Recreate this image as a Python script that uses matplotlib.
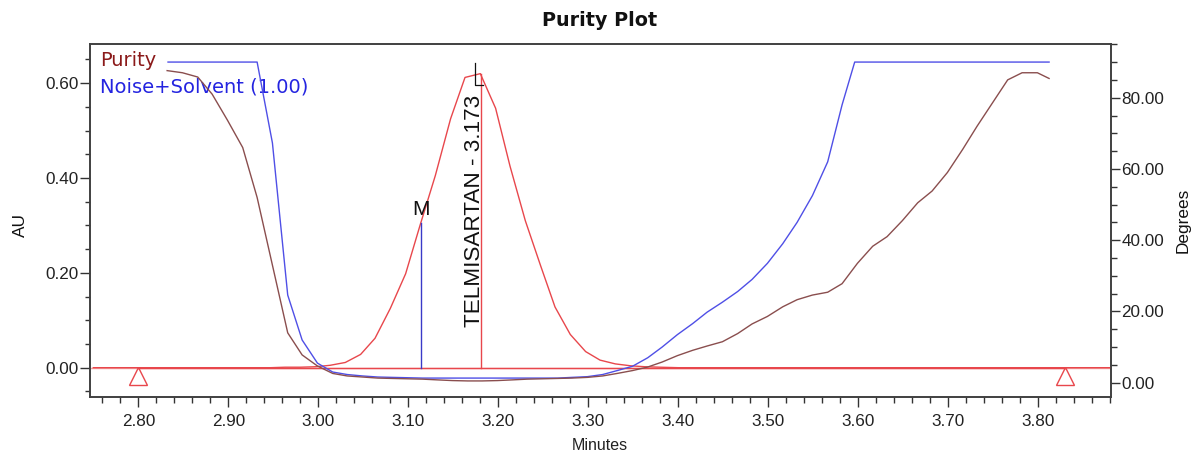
import matplotlib
matplotlib.use("Agg")
import matplotlib.pyplot as plt
from matplotlib.ticker import MultipleLocator, FormatStrFormatter

# ---------------- data ----------------
# chromatogram (AU vs minutes)
chrom_t = [2.750, 2.947, 2.963, 2.980, 2.997, 3.013, 3.030, 3.047, 3.063, 3.080,
           3.097, 3.113, 3.130, 3.147, 3.163, 3.180, 3.197, 3.213, 3.230, 3.247,
           3.263, 3.280, 3.297, 3.313, 3.330, 3.347, 3.363, 3.380, 3.400, 3.880]
chrom_au = [0.000, 0.000, 0.001, 0.001, 0.002, 0.005, 0.011, 0.028, 0.062, 0.125,
            0.198, 0.300, 0.405, 0.525, 0.612, 0.620, 0.547, 0.425, 0.310, 0.215,
            0.128, 0.070, 0.034, 0.016, 0.008, 0.004, 0.002, 0.001, 0.000, 0.000]

# purity angle (degrees)
pur_t = [2.832, 2.849, 2.866, 2.882, 2.899, 2.916, 2.932, 2.949, 2.966, 2.982,
         2.999, 3.016, 3.032, 3.049, 3.066, 3.082, 3.099, 3.116, 3.132, 3.149,
         3.166, 3.182, 3.199, 3.216, 3.232, 3.249, 3.266, 3.282, 3.299, 3.316,
         3.332, 3.349, 3.366, 3.382, 3.399, 3.416, 3.432, 3.449, 3.466, 3.482,
         3.499, 3.516, 3.532, 3.549, 3.566, 3.582, 3.599, 3.616, 3.632, 3.649,
         3.666, 3.682, 3.699, 3.716, 3.732, 3.749, 3.766, 3.782, 3.799, 3.812]
pur_deg = [87.6, 87.0, 85.8, 81.0, 73.7, 66.0, 52.0, 33.0, 14.0, 7.8,
           4.7, 2.6, 1.9, 1.6, 1.3, 1.2, 1.1, 1.0, 0.8, 0.6,
           0.5, 0.5, 0.6, 0.8, 1.0, 1.1, 1.2, 1.3, 1.5, 1.9,
           2.6, 3.4, 4.4, 5.8, 7.6, 9.1, 10.3, 11.5, 13.8, 16.5,
           18.6, 21.3, 23.3, 24.6, 25.4, 27.8, 33.5, 38.3, 41.0, 45.5,
           50.5, 53.8, 59.0, 65.5, 72.0, 78.5, 85.0, 87.0, 87.0, 85.4]

# noise + solvent threshold (degrees)
thr_t = [2.833, 2.932, 2.949, 2.966, 2.982, 2.999, 3.016, 3.032, 3.049, 3.066,
         3.082, 3.099, 3.116, 3.266, 3.282, 3.299, 3.316, 3.332, 3.349, 3.366,
         3.382, 3.399, 3.416, 3.432, 3.449, 3.466, 3.482, 3.499, 3.516, 3.532,
         3.549, 3.566, 3.582, 3.596, 3.812]
thr_deg = [90.0, 90.0, 67.3, 24.6, 12.0, 5.5, 3.0, 2.3, 1.9, 1.6,
           1.5, 1.4, 1.3, 1.3, 1.5, 1.7, 2.3, 3.4, 4.6, 7.0,
           10.0, 13.5, 16.6, 19.8, 22.6, 25.6, 29.0, 33.5, 39.0, 45.0,
           52.5, 62.0, 78.0, 90.0, 90.0]

# peak annotation
peak_name = "TELMISARTAN"
peak_label_rt = 3.173
peak_apex_t = 3.181
peak_apex_au = 0.620
m_t = 3.114
m_au = 0.305
baseline_start = 2.80
baseline_end = 3.83

title = "Purity Plot"
legend_purity = "Purity"
legend_noise = "Noise+Solvent (1.00)"

# ---------------- figure ----------------
W, H = 1199, 455
fig = plt.figure(figsize=(W / 100, H / 100), dpi=100)
L, R, T, B = 90, 1111, 44, 397
ax = fig.add_axes([L / W, (H - B) / H, (R - L) / W, (B - T) / H])
ax2 = ax.twinx()

red = "#E8474C"
brown = "#8A4E4E"
blue = "#4F4FE6"
tick_font = {"family": "Liberation Sans", "size": 12.3}

ax.set_xlim(2.7463, 3.8808)
ax.set_ylim(-0.0618, 0.6825)
ax2.set_ylim(-4.01, 95.07)

# baseline and chromatogram
ax.plot([ax.get_xlim()[0], ax.get_xlim()[1]], [0, 0], color="#F4A0A0", lw=1.0, zorder=2)
ax.plot([baseline_start, baseline_end], [0, 0], color=red, lw=1.0, zorder=3)
ax.plot(chrom_t, chrom_au, color=red, lw=1.0, zorder=3)
ax.plot([baseline_start, baseline_end], [-0.018, -0.018], linestyle="none",
        marker="^", markersize=13, markerfacecolor="none",
        markeredgecolor=red, markeredgewidth=1.0, zorder=4)

# apex drop line, M line
ax.plot([peak_apex_t, peak_apex_t], [0, peak_apex_au], color=red, lw=1.0, zorder=3)
ax.plot([m_t, m_t], [0, m_au], color="#3A3AC8", lw=1.0, zorder=3)
ax.text(m_t, m_au + 0.008, "M", ha="center", va="bottom",
        fontfamily="Liberation Sans", fontsize=15, color="#111111")

# peak label with leader
ax.plot([peak_label_rt + 0.001, peak_label_rt + 0.001, peak_apex_t + 0.002],
        [0.643, 0.596, 0.596], color="#111111", lw=0.9, zorder=5)
ax.text(peak_label_rt + 0.001, 0.086, f"{peak_name} - {peak_label_rt:.3f}",
        rotation=90, ha="center", va="bottom",
        fontfamily="Liberation Sans", fontsize=16.2, color="#111111", zorder=6)

# purity curves on right axis
ax2.plot(thr_t, thr_deg, color=blue, lw=1.0)
ax2.plot(pur_t, pur_deg, color=brown, lw=1.0)

# legend texts
ax.text(0.0098, 0.952, legend_purity, transform=ax.transAxes, ha="left", va="center",
        fontfamily="DejaVu Sans", fontsize=14, color="#8B1A1A", zorder=7)
ax.text(0.0098, 0.878, legend_noise, transform=ax.transAxes, ha="left", va="center",
        fontfamily="DejaVu Sans", fontsize=14, color="#2424E0", zorder=7)

# ticks
ax.xaxis.set_major_locator(MultipleLocator(0.10))
ax.xaxis.set_minor_locator(MultipleLocator(0.02))
ax.xaxis.set_major_formatter(FormatStrFormatter("%.2f"))
ax.yaxis.set_major_locator(MultipleLocator(0.20))
ax.yaxis.set_minor_locator(MultipleLocator(0.05))
ax.yaxis.set_major_formatter(FormatStrFormatter("%.2f"))
ax2.yaxis.set_major_locator(MultipleLocator(20))
ax2.yaxis.set_minor_locator(MultipleLocator(5))
ax2.yaxis.set_major_formatter(FormatStrFormatter("%.2f"))

ax.tick_params(axis="x", which="major", direction="out", length=7, width=1.0,
               pad=5, colors="#333333")
ax.tick_params(axis="x", which="minor", direction="out", length=4, width=1.0, colors="#333333")
ax.tick_params(axis="y", which="major", direction="out", length=7, width=1.0,
               pad=1, colors="#333333")
ax.tick_params(axis="y", which="minor", direction="out", length=3.5, width=1.0, colors="#333333")
ax2.tick_params(axis="y", which="major", direction="out", length=6.5, width=1.0,
                pad=1, colors="#333333")
ax2.tick_params(axis="y", which="minor", direction="out", length=4, width=1.0, colors="#333333")
for lab in ax.get_xticklabels() + ax.get_yticklabels() + ax2.get_yticklabels():
    lab.set_fontfamily(tick_font["family"])
    lab.set_fontsize(tick_font["size"])
    lab.set_color("#222222")

for a in (ax, ax2):
    for s in a.spines.values():
        s.set_color("#404040")
        s.set_linewidth(1.2)

# labels & title
fig.text(600 / W, 1 - 21 / H, title, ha="center", va="center",
         fontfamily="DejaVu Sans", fontweight="bold", fontsize=13.8, color="#111111")
fig.text(600 / W, 1 - 445 / H, "Minutes", ha="center", va="center",
         fontfamily="Liberation Sans", fontsize=11.5, color="#222222")
fig.text(20 / W, 1 - 225 / H, "AU", ha="center", va="center", rotation=90,
         fontfamily="Liberation Sans", fontsize=12.4, color="#111111")
fig.text(1183 / W, 1 - 220 / H, "Degrees", ha="center", va="center", rotation=90,
         fontfamily="Liberation Sans", fontsize=12.4, color="#111111")

fig.savefig("out.png", dpi=100)
